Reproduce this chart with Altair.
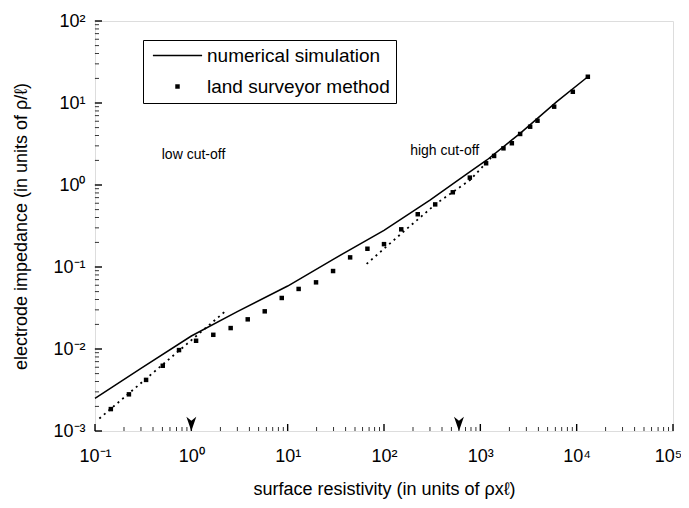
import altair as alt
import pandas as pd

FONT = "Liberation Sans"
sim_name = "numerical simulation"
sur_name = "land surveyor method"

# numerical simulation (solid line)
sim_x = [0.1, 0.3, 1, 3, 10, 30, 100, 300, 720, 1170, 2590, 6220, 13060]
sim_y = [0.0025, 0.0058, 0.0144, 0.0285, 0.0586, 0.125, 0.28, 0.656, 1.36, 2.02, 4.27, 10.4, 20.9]

# land surveyor method (squares)
sur_x = [0.146, 0.225, 0.339, 0.505, 0.745, 1.12, 1.69, 2.56, 3.85, 5.78,
         8.68, 13.0, 19.7, 29.6, 44.5, 67.3, 100, 151, 224, 340,
         518, 778, 1148, 1390, 1738, 2124, 2590, 3290, 3920, 5840, 9120, 13060]
sur_y = [0.00185, 0.0028, 0.0042, 0.00625, 0.0097, 0.0126, 0.0149, 0.018, 0.023, 0.0288,
         0.0419, 0.054, 0.065, 0.0893, 0.131, 0.167, 0.19, 0.288, 0.44, 0.58,
         0.815, 1.23, 1.84, 2.26, 2.8, 3.23, 4.19, 5.14, 6.08, 9.02, 13.7, 20.9]

# dotted asymptotes
low_x = [0.111, 2.24]
low_y = [0.00142, 0.0287]
high_x = [66, 159, 352, 783, 1480]
high_y = [0.109, 0.269, 0.598, 1.15, 2.55]

# cut-off arrows and notes
arrow_x = [1, 600]
arrow_y = [0.00122, 0.00122]
note_text = ["low cut-off", "high cut-off"]
note_x = [0.493, 187]
note_y = [2.32, 2.62]

x_major = [0.1, 1, 10, 100, 1000, 10000, 100000]
x_labels = ["10\u207b\u00b9", "10\u2070", "10\u00b9", "10\u00b2", "10\u00b3", "10\u2074", "10\u2075"]
y_major = [0.001, 0.01, 0.1, 1, 10, 100]
y_labels = ["10\u207b\u00b3", "10\u207b\u00b2", "10\u207b\u00b9", "10\u2070", "10\u00b9", "10\u00b2"]

W, H = 578, 410


def minor(majors):
    out = []
    for m in majors[:-1]:
        for k in range(2, 10):
            out.append(round(m * k, 10))
    return out


def lab_expr(vals, labels):
    expr = "''"
    for v, l in reversed(list(zip(vals, labels))):
        expr = f"(datum.value > {v/3} && datum.value < {v*3}) ? '{l}' : ({expr})"
    return expr


sim_df = pd.DataFrame({"x": sim_x, "y": sim_y})
sur_df = pd.DataFrame({"x": sur_x, "y": sur_y, "series": sur_name})
low_df = pd.DataFrame({"x": low_x, "y": low_y})
high_df = pd.DataFrame({"x": high_x, "y": high_y})
arr_df = pd.DataFrame({"x": arrow_x, "y": arrow_y})
note_df = pd.DataFrame({"x": note_x, "y": note_y, "t": note_text})

xs = alt.Scale(type="log", domain=[0.1, 100000], nice=False)
ys = alt.Scale(type="log", domain=[0.001, 100], nice=False)

common_axis = dict(domain=False, grid=False, tickSize=0, tickOpacity=0,
                   labelColor="black", labelFont=FONT, labelFontSize=18,
                   titleFont=FONT, titleFontSize=18, titleColor="black",
                   titleFontWeight="normal", labelFlush=False, labelOverlap=False)

x_axis = alt.Axis(orient="bottom", values=x_major[:-1],
                  labelExpr=lab_expr(x_major, x_labels), labelPadding=16,
                  title="surface resistivity (in units of \u03c1x\u2113)",
                  titlePadding=15, **common_axis)
x_axis_end = alt.Axis(orient="bottom", values=x_major[-1:],
                      labelExpr=lab_expr(x_major, x_labels), labelPadding=16,
                      labelOffset=-5, title=None, **common_axis)
y_axis = alt.Axis(orient="left", values=y_major,
                  labelExpr=lab_expr(y_major, y_labels), labelPadding=10,
                  labelBaseline="middle",
                  title="electrode impedance (in units of \u03c1/\u2113)",
                  titlePadding=22, **common_axis)

# inward tick marks (axis furniture), anchored on the axis edges
tick_x_df = pd.DataFrame({"x": x_major + minor(x_major),
                          "y": y_major[0],
                          "k": ["major"] * len(x_major) + ["minor"] * len(minor(x_major))})
tick_y_df = pd.DataFrame({"x": x_major[0],
                          "y": y_major + minor(y_major),
                          "k": ["major"] * len(y_major) + ["minor"] * len(minor(y_major))})

tick_size = alt.Size("k:N", scale=alt.Scale(domain=["major", "minor"], range=[196, 64]),
                     legend=None)

yticks = alt.Chart(tick_y_df).mark_point(
    shape="M-0.02,-0.1L1,-0.1L1,0.1L-0.02,0.1Z", filled=True, color="black",
    opacity=1).encode(
    x=alt.X("x:Q", scale=xs, axis=None), y=alt.Y("y:Q", scale=ys, axis=y_axis),
    size=tick_size)

xticks = alt.Chart(tick_x_df).mark_point(
    shape="M-0.1,0L0.1,0L0.1,-1L-0.1,-1Z", filled=True, color="black", opacity=1).encode(
    x=alt.X("x:Q", scale=xs, axis=x_axis), y=alt.Y("y:Q", scale=ys, axis=None),
    size=tick_size)

line = alt.Chart(sim_df).mark_line(color="black", strokeWidth=1.5).encode(
    x=alt.X("x:Q", scale=xs, axis=None),
    y=alt.Y("y:Q", scale=ys, axis=None),
)

points = alt.Chart(sur_df).mark_point(filled=True, color="black", size=20, opacity=1).encode(
    x=alt.X("x:Q", scale=xs, axis=x_axis_end),
    y=alt.Y("y:Q", scale=ys, axis=None),
    shape=alt.Shape("series:N",
                    scale=alt.Scale(domain=[sim_name, sur_name],
                                    range=["M-11,-0.32H11V0.32H-11Z", "square"]),
                    legend=alt.Legend(title=None, orient="none", legendX=48, legendY=19,
                                      strokeColor="black", padding=6, symbolSize=20,
                                      symbolFillColor="black", symbolStrokeWidth=0,
                                      symbolOffset=19, labelOffset=20,
                                      labelFont=FONT, labelFontSize=19, labelColor="black",
                                      rowPadding=11, labelLimit=400)),
)

dot_style = dict(color="black", strokeWidth=1.8, strokeDash=[2, 4])
low = alt.Chart(low_df).mark_line(**dot_style).encode(
    x=alt.X("x:Q", scale=xs, axis=None), y=alt.Y("y:Q", scale=ys, axis=None))
high = alt.Chart(high_df).mark_line(**dot_style).encode(
    x=alt.X("x:Q", scale=xs, axis=None), y=alt.Y("y:Q", scale=ys, axis=None))

arrows = alt.Chart(arr_df).mark_point(
    shape="M-0.7,-1L0,1L0.7,-1L0,-0.45Z", filled=True, color="black", size=200,
    opacity=1).encode(
    x=alt.X("x:Q", scale=xs, axis=None), y=alt.Y("y:Q", scale=ys, axis=None))

notes = alt.Chart(note_df).mark_text(font=FONT, fontSize=14, align="left",
                                     baseline="middle", color="black").encode(
    x=alt.X("x:Q", scale=xs, axis=None), y=alt.Y("y:Q", scale=ys, axis=None), text="t:N")

chart = alt.layer(
    yticks, xticks, line, points, low, high, arrows, notes,
).resolve_axis(x="independent", y="independent").resolve_scale(size="independent").properties(
    width=W, height=H,
    autosize=alt.AutoSizeParams(type="none"),
    padding={"left": 87, "top": 13, "right": 8, "bottom": 75},
).configure_view(stroke="black", strokeWidth=2).configure(background="white")

chart.save("out.html", embed_options={"renderer": "svg", "actions": False})
